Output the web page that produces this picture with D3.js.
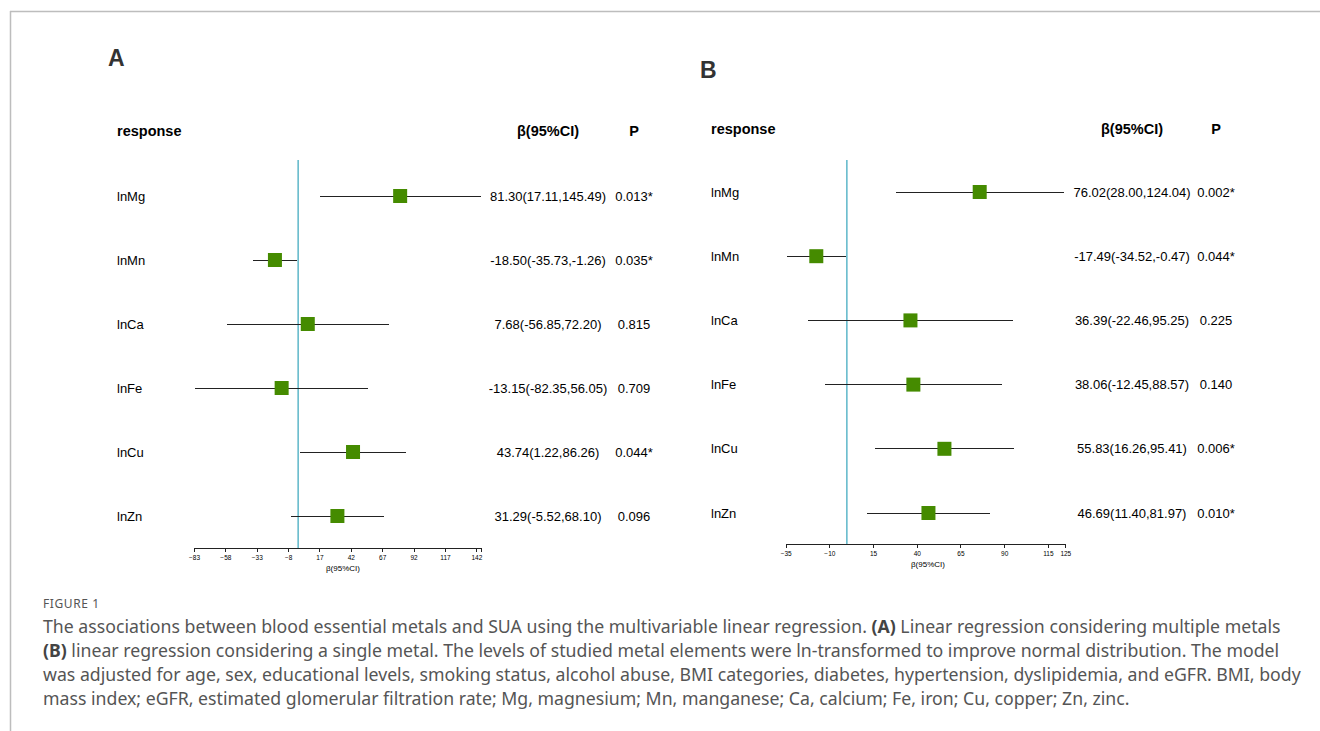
<!DOCTYPE html>
<html>
<head>
<meta charset="utf-8">
<script src="https://cdn.jsdelivr.net/npm/d3@7"></script>
<style>
  body { margin: 0; background: #fff; }
  .plot text { font-family: "Liberation Sans", Arial, sans-serif; }
  .header { font-weight: bold; font-size: 14.5px; fill: #000; }
  .row-text { font-size: 13px; fill: #000; }
  .panel-letter { font-weight: bold; font-size: 23px; fill: #333; }
  .axis text { font-size: 6.5px; fill: #000; }
  .axis path, .axis line { stroke: #222; shape-rendering: crispEdges; }
  .axis-title { font-size: 8px; fill: #000; }
  .ci { shape-rendering: crispEdges; }
  .caption { font-family: "Noto Sans", "Open Sans", sans-serif; fill: #555; }
</style>
</head>
<body>
<div id="figure"></div>
<script>
// ---- data ----
const metals = ["lnMg", "lnMn", "lnCa", "lnFe", "lnCu", "lnZn"];

// (A) multiple metals
const betaA = [81.30, -18.50, 7.68, -13.15, 43.74, 31.29];
const lowerA = [17.11, -35.73, -56.85, -82.35, 1.22, -5.52];
const upperA = [145.49, -1.26, 72.20, 56.05, 86.26, 68.10];
const pA = ["0.013*", "0.035*", "0.815", "0.709", "0.044*", "0.096"];
const ticksA = [-83, -58, -33, -8, 17, 42, 67, 92, 117, 142];

// (B) single metal
const betaB = [76.02, -17.49, 36.39, 38.06, 55.83, 46.69];
const lowerB = [28.00, -34.52, -22.46, -12.45, 16.26, 11.40];
const upperB = [124.04, -0.47, 95.25, 88.57, 95.41, 81.97];
const pB = ["0.002*", "0.044*", "0.225", "0.140", "0.006*", "0.010*"];
const ticksB = [-35, -10, 15, 40, 65, 90, 115, 125];

const captionLines = [
  [["The associations between blood essential metals and SUA using the multivariable linear regression. ", false], ["(A)", true], [" Linear regression considering multiple metals", false]],
  [["(B)", true], [" linear regression considering a single metal. The levels of studied metal elements were ln-transformed to improve normal distribution. The model", false]],
  [["was adjusted for age, sex, educational levels, smoking status, alcohol abuse, BMI categories, diabetes, hypertension, dyslipidemia, and eGFR. BMI, body", false]],
  [["mass index; eGFR, estimated glomerular filtration rate; Mg, magnesium; Mn, manganese; Ca, calcium; Fe, iron; Cu, copper; Zn, zinc.", false]]
];

const W = 1320, H = 731;

let svg = d3.select("#figure").append("svg")
  .attr("width", W)
  .attr("height", H);

// page frame (top and left rule)
svg.append("line")
  .attr("x1", 10).attr("x2", W).attr("y1", 11.5).attr("y2", 11.5)
  .attr("stroke", "#bdbdbd").attr("stroke-width", 1.5);
svg.append("line")
  .attr("x1", 10.5).attr("x2", 10.5).attr("y1", 11).attr("y2", H)
  .attr("stroke", "#bdbdbd").attr("stroke-width", 1.5);


ForestPlot = function(_svg, _conf, _beta, _lower, _upper, _p, _ticks) {
  this.svg = _svg;
  this.conf = _conf;
  this.beta = _beta;
  this.lower = _lower;
  this.upper = _upper;
  this.p = _p;
  this.ticks = _ticks;

  this.initVis();
};

ForestPlot.prototype.initVis = function() {
  let vis = this;
  let c = vis.conf;

  vis.g = vis.svg.append("g").attr("class", "plot");

  vis.x = d3.scaleLinear()
    .domain(c.domain)
    .range(c.xRange);

  vis.y = d3.scalePoint()
    .domain(metals)
    .range(c.yRange);

  vis.xAxis = d3.axisBottom(vis.x)
    .tickValues(vis.ticks)
    .tickSize(4)
    .tickSizeOuter(4)
    .tickPadding(3)
    .tickFormat(d3.format("d"));

  vis.data = metals.map(function(m, i) {
    return {
      name: m,
      beta: vis.beta[i],
      lower: vis.lower[i],
      upper: vis.upper[i],
      p: vis.p[i]
    };
  });

  vis.updateVis();
};

ForestPlot.prototype.updateVis = function() {
  let vis = this;
  let c = vis.conf;

  // panel letter
  vis.g.append("text")
    .attr("class", "panel-letter")
    .attr("x", c.letter[0])
    .attr("y", c.letter[1])
    .text(c.name);

  // headers
  vis.g.append("text")
    .attr("class", "header")
    .attr("x", c.labelX)
    .attr("y", c.headerY)
    .text("response");
  vis.g.append("text")
    .attr("class", "header")
    .attr("x", c.ciX)
    .attr("y", c.headerY)
    .attr("text-anchor", "middle")
    .text("β(95%CI)");
  vis.g.append("text")
    .attr("class", "header")
    .attr("x", c.pX)
    .attr("y", c.headerY)
    .attr("text-anchor", "middle")
    .text("P");

  // reference line at zero
  vis.g.append("line")
    .attr("x1", vis.x(0)).attr("x2", vis.x(0))
    .attr("y1", c.refTop).attr("y2", c.axisY)
    .attr("stroke", "#5db7c9")
    .attr("stroke-width", 1.5);

  let rows = vis.g.selectAll(".row")
    .data(vis.data)
    .enter().append("g")
    .attr("class", "row")
    .attr("transform", function(d) {
      return "translate(0," + vis.y(d.name) + ")";
    });

  rows.append("text")
    .attr("class", "row-text")
    .attr("x", c.labelX)
    .attr("dy", "0.35em")
    .text(function(d) { return d.name; });

  rows.append("line")
    .attr("class", "ci")
    .attr("x1", function(d) { return vis.x(d.lower); })
    .attr("x2", function(d) { return vis.x(d.upper); })
    .attr("stroke", "#222")
    .attr("stroke-width", 1);

  rows.append("rect")
    .attr("x", function(d) { return vis.x(d.beta) - 7; })
    .attr("y", -7)
    .attr("width", 14)
    .attr("height", 14)
    .attr("fill", "#458b00");

  rows.append("text")
    .attr("class", "row-text")
    .attr("x", c.ciX)
    .attr("dy", "0.35em")
    .attr("text-anchor", "middle")
    .text(function(d) {
      return d.beta.toFixed(2) + "(" + d.lower.toFixed(2) + "," + d.upper.toFixed(2) + ")";
    });

  rows.append("text")
    .attr("class", "row-text")
    .attr("x", c.pX)
    .attr("dy", "0.35em")
    .attr("text-anchor", "middle")
    .text(function(d) { return d.p; });

  // x axis
  let ax = vis.g.append("g")
    .attr("class", "axis")
    .attr("transform", "translate(0," + c.axisY + ")")
    .call(vis.xAxis);
  ax.select(".domain").attr("stroke-width", 1.2);

  vis.g.append("text")
    .attr("class", "axis-title")
    .attr("x", c.axisTitleX)
    .attr("y", c.axisY + 23)
    .attr("text-anchor", "middle")
    .text("β(95%CI)");
};

let plotA = new ForestPlot(svg, {
  name: "A",
  letter: [108, 66],
  headerY: 136,
  labelX: 117,
  ciX: 548,
  pX: 634,
  yRange: [196, 516],
  domain: [-83, 145.49],
  xRange: [194, 480.7],
  axisY: 548,
  refTop: 160,
  axisTitleX: 343
}, betaA, lowerA, upperA, pA, ticksA);

let plotB = new ForestPlot(svg, {
  name: "B",
  letter: [700, 78],
  headerY: 134,
  labelX: 711,
  ciX: 1132,
  pX: 1216,
  yRange: [192, 513],
  domain: [-35, 125],
  xRange: [785.7, 1065.3],
  axisY: 544,
  refTop: 160,
  axisTitleX: 928
}, betaB, lowerB, upperB, pB, ticksB);

// caption
svg.append("text")
  .attr("class", "caption")
  .attr("x", 43)
  .attr("y", 608)
  .attr("font-size", 12)
  .attr("letter-spacing", 0.6)
  .attr("fill", "#666")
  .text("FIGURE 1");

let cap = svg.append("text")
  .attr("class", "caption")
  .attr("font-size", 17.7);

captionLines.forEach(function(line, i) {
  line.forEach(function(part, j) {
    let t = cap.append("tspan").text(part[0]);
    if (j == 0) {
      t.attr("x", 43).attr("y", 633 + i * 24);
    }
    if (part[1]) {
      t.attr("font-weight", "bold").attr("fill", "#444");
    }
  });
});
</script>
</body>
</html>
